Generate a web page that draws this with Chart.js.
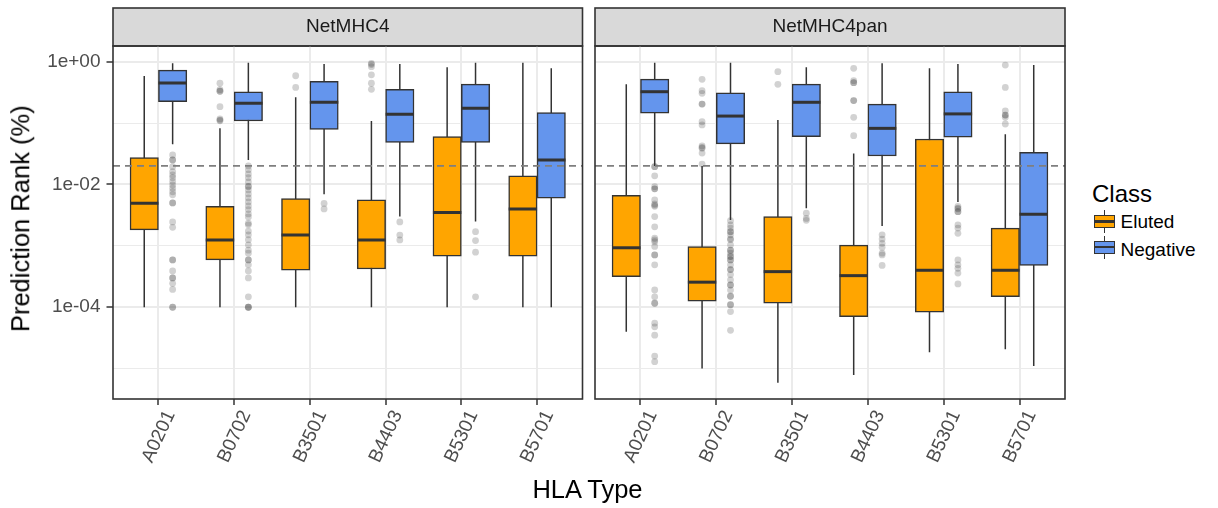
<!DOCTYPE html>
<html><head><meta charset="utf-8">
<script src="https://cdn.jsdelivr.net/npm/chart.js@4.4.1/dist/chart.umd.min.js"></script>
<style>
html,body{margin:0;padding:0;background:#fff;}
body{width:1218px;height:508px;position:relative;overflow:hidden;font-family:"Liberation Sans",Arial,sans-serif;}
canvas{position:absolute;top:0;}
#c1{left:0;} #c2{left:590px;}
.txt{position:absolute;line-height:1;white-space:nowrap;color:#000;}
.key{position:absolute;width:21px;height:23px;}
.key .wh{position:absolute;left:9.75px;top:0;width:1.5px;height:23px;background:#333;}
.key .bx{position:absolute;left:0;top:5px;width:21px;height:13px;box-sizing:border-box;border:1.5px solid #333;}
.key .md{position:absolute;left:0;top:10.25px;width:21px;height:2.5px;background:#333;}
</style></head><body>
<canvas id="c1" width="590" height="508"></canvas>
<canvas id="c2" width="480" height="508"></canvas>
<div class="txt" style="left:-129px;top:205.5px;width:300px;height:25.5px;font-size:25.5px;text-align:center;transform:rotate(-90deg);">Prediction Rank (%)</div>
<div class="txt" style="left:387.5px;top:476.5px;width:400px;font-size:25.5px;text-align:center;">HLA Type</div>
<div class="txt" style="left:1092px;top:181.5px;font-size:24px;">Class</div>
<div class="key" style="left:1094px;top:210px;"><div class="wh"></div><div class="bx" style="background:#FFA500"></div><div class="md"></div></div>
<div class="txt" style="left:1120.5px;top:212.4px;font-size:19px;">Eluted</div>
<div class="key" style="left:1094px;top:235.5px;"><div class="wh"></div><div class="bx" style="background:#6495ED"></div><div class="md"></div></div>
<div class="txt" style="left:1120.5px;top:239.6px;font-size:19px;">Negative</div>
<script>
// ---------- data ----------
const categories = ['A0201','B0702','B3501','B4403','B5301','B5701'];
const facetNames = ['NetMHC4','NetMHC4pan'];
const classNames = ['Eluted','Negative'];
const classColors = ['#FFA500','#6495ED'];
const yTickValues = [1e-4, 1e-2, 1];
const yTickLabels = ['1e-04','1e-02','1e+00'];
const yMinorValues = [1e-5, 1e-3, 1e-1];
const thresholdRank = 0.02;

// box stats per HLA type: [lower whisker, Q1, median, Q3, upper whisker]
const netMHC4Eluted = [
  [1e-4, 0.00182, 0.00494, 0.0273, 0.585],
  [1e-4, 0.00059, 0.00125, 0.0044, 0.082],
  [1e-4, 0.00040, 0.00150, 0.0059, 0.263],
  [1e-4, 0.00042, 0.00125, 0.0056, 0.108],
  [1e-4, 0.00068, 0.00350, 0.0600, 0.81],
  [1e-4, 0.00068, 0.00400, 0.0138, 0.96]
];
const netMHC4Negative = [
  [0.045, 0.223, 0.45, 0.73, 0.94],
  [0.025, 0.108, 0.21, 0.324, 0.96],
  [0.0069, 0.079, 0.218, 0.48, 0.92],
  [0.0030, 0.0486, 0.139, 0.355, 0.92],
  [0.0025, 0.0486, 0.174, 0.43, 0.96],
  [1e-4, 0.0060, 0.0251, 0.148, 0.78]
];
const netMHC4panEluted = [
  [3.97e-5, 0.000316, 0.00093, 0.00667, 0.43],
  [1.0e-5, 0.000126, 0.000256, 0.00097, 0.020],
  [5.9e-6, 0.000116, 0.00038, 0.0030, 0.112],
  [7.9e-6, 0.000070, 0.000327, 0.00103, 0.032],
  [1.85e-5, 0.000083, 0.00040, 0.055, 0.78],
  [2.07e-5, 0.000148, 0.00040, 0.00194, 0.066]
];
const netMHC4panNegative = [
  [0.020, 0.145, 0.324, 0.52, 0.96],
  [0.00264, 0.0457, 0.13, 0.31, 0.96],
  [0.0041, 0.060, 0.218, 0.43, 0.81],
  [0.0021, 0.0291, 0.082, 0.204, 0.94],
  [0.0052, 0.0588, 0.141, 0.324, 0.92],
  [1.1e-5, 0.00048, 0.00327, 0.0334, 0.88]
];

// outliers per HLA type
const netMHC4ElutedOutliers = [
  [],
  [0.445, 0.35, 0.33, 0.33, 0.185, 0.117, 0.112, 0.109],
  [0.59, 0.38],
  [0.94, 0.90, 0.83, 0.61, 0.445, 0.355],
  [],
  []
];
const netMHC4NegativeOutliers = [
  [0.0302, 0.0251, 0.0251, 0.0195, 0.0162, 0.0143, 0.0129, 0.0112, 0.0098, 0.0087, 0.0076, 0.0068, 0.0050, 0.0050, 0.00245, 0.0020, 0.00059, 0.00059, 0.00039, 0.00030, 0.00030, 0.000245, 0.000195, 0.0001, 0.0001],
  [0.0200, 0.0174, 0.0148, 0.0129, 0.0110, 0.0093, 0.0093, 0.00813, 0.0070, 0.00603, 0.00519, 0.00447, 0.00389, 0.00331, 0.00295, 0.00234, 0.0022, 0.00174, 0.00151, 0.00126, 0.00104, 0.00085, 0.00076, 0.00059, 0.00059, 0.00049, 0.00039, 0.00030, 0.000148, 0.0001, 0.0001, 0.0001],
  [0.0049, 0.0040],
  [0.00245, 0.0015, 0.00125],
  [0.0017, 0.00122, 0.00079, 0.000148],
  []
];
const netMHC4panElutedOutliers = [
  [],
  [0.516, 0.337, 0.305, 0.204, 0.204, 0.105, 0.0933, 0.0424, 0.040, 0.0389, 0.0324, 0.0215],
  [0.687, 0.428],
  [0.78, 0.49, 0.455, 0.455, 0.232, 0.232, 0.124, 0.0624],
  [],
  [0.88, 0.38, 0.158, 0.135, 0.135, 0.124, 0.0966]
];
const netMHC4panNegativeOutliers = [
  [0.0195, 0.0195, 0.0138, 0.0092, 0.0085, 0.0085, 0.0056, 0.0048, 0.0046, 0.0044, 0.0030, 0.00204, 0.00133, 0.00125, 0.00117, 0.00098, 0.00071, 0.00071, 0.00049, 0.000191, 0.000148, 0.000116, 0.000116, 5.5e-5, 4.8e-5, 3.5e-5, 1.6e-5, 1.3e-5],
  [0.00257, 0.00219, 0.00195, 0.0017, 0.0017, 0.00151, 0.0013, 0.00126, 0.00104, 0.00085, 0.00085, 0.00076, 0.00067, 0.00067, 0.00059, 0.00059, 0.00049, 0.00041, 0.00041, 0.00034, 0.00028, 0.00023, 0.00023, 0.00019, 0.000151, 0.000151, 0.00011, 0.00011, 8.5e-5, 4.2e-5],
  [0.0034, 0.0028, 0.0026],
  [0.00151, 0.00129, 0.0011, 0.00095, 0.00076, 0.00071, 0.00048],
  [0.0044, 0.0041, 0.0040, 0.0036, 0.0036, 0.00219, 0.00195, 0.0016, 0.00059, 0.00049, 0.00043, 0.00036, 0.00024],
  []
];

// ---------- layout / style ----------
const FONT = '"Liberation Sans", Arial, sans-serif';
const xMin = 0.4, xMax = 6.6;      // discrete axis expansion (0.6 each side)
const yMin = 3.2e-6, yMax = 1.8;   // log axis range
const dodge = 0.1875;
const stripTop = 8;
const isMajorY = v => yTickValues.some(t => Math.abs(Math.log10(t) - Math.log10(v)) < 1e-6);

const stripPlugin = {
  id: 'strip',
  beforeDraw(chart) {
    const {ctx, chartArea: a} = chart;
    ctx.save();
    ctx.fillStyle = '#d9d9d9';
    ctx.fillRect(a.left, stripTop, a.right - a.left, a.top - stripTop);
    ctx.strokeStyle = '#333333';
    ctx.lineWidth = 1.6;
    ctx.strokeRect(a.left, stripTop, a.right - a.left, a.top - stripTop);
    ctx.restore();
  }
};
const borderPlugin = {
  id: 'panelBorder',
  afterDatasetsDraw(chart) {
    const {ctx, chartArea: a} = chart;
    ctx.save();
    ctx.strokeStyle = '#333333';
    ctx.lineWidth = 1.6;
    ctx.strokeRect(a.left, a.top, a.right - a.left, a.bottom - a.top);
    ctx.restore();
  }
};

function makePanel(canvasId, title, eluted, negative, elutedOut, negativeOut, showY, padL, padR) {
  const groups = [
    {stats: eluted, out: elutedOut, color: classColors[0], off: -dodge, name: classNames[0]},
    {stats: negative, out: negativeOut, color: classColors[1], off: dodge, name: classNames[1]}
  ];
  const datasets = [];
  groups.forEach(g => {
    const wh = [];
    g.stats.forEach((s, i) => { const x = i + 1 + g.off; wh.push({x, y: s[0]}, {x, y: s[4]}, {x, y: null}); });
    datasets.push({type: 'line', label: g.name + ' whiskers', data: wh, borderColor: '#333333', borderWidth: 1.5,
      pointRadius: 0, spanGaps: false, fill: false, order: 5});
  });
  groups.forEach(g => {
    datasets.push({type: 'bar', label: g.name, data: g.stats.map((s, i) => ({x: i + 1 + g.off, y: [s[1], s[3]]})),
      backgroundColor: g.color, borderColor: '#333333', borderWidth: 1.5, borderSkipped: false,
      grouped: false, categoryPercentage: 1, barPercentage: 1, order: 4});
  });
  groups.forEach(g => {
    datasets.push({type: 'scatter', label: g.name + ' median', data: g.stats.map((s, i) => ({x: i + 1 + g.off, y: s[2]})),
      pointStyle: 'line', pointRadius: 14.2, pointBorderWidth: 3, pointBorderColor: '#333333',
      borderColor: '#333333', order: 3});
  });
  groups.forEach(g => {
    datasets.push({type: 'scatter', label: g.name + ' outliers',
      data: g.out.flatMap((arr, i) => arr.map(v => ({x: i + 1 + g.off, y: v}))),
      pointRadius: 3.4, pointBackgroundColor: 'rgba(51,51,51,0.22)', pointBorderWidth: 0, order: 2});
  });
  datasets.push({type: 'line', label: 'threshold', data: [{x: xMin, y: thresholdRank}, {x: xMax, y: thresholdRank}],
    borderColor: '#7f7f7f', borderWidth: 1.8, borderDash: [7, 5], pointRadius: 0, fill: false, order: 1});

  return new Chart(document.getElementById(canvasId), {
    type: 'bar',
    data: {datasets},
    plugins: [stripPlugin, borderPlugin],
    options: {
      responsive: false, animation: false, events: [],
      layout: {autoPadding: false, padding: {left: padL, right: padR, top: 0, bottom: 0}},
      plugins: {
        legend: {display: false}, tooltip: {enabled: false},
        title: {display: true, text: title, position: 'top', fullSize: false, color: '#1a1a1a',
          font: {family: FONT, size: 19, weight: 'normal', lineHeight: 1.2}, padding: {top: 15.6, bottom: 7.6}}
      },
      scales: {
        x: {
          type: 'linear', min: xMin, max: xMax, offset: false,
          afterBuildTicks: s => { s.ticks = categories.map((c, i) => ({value: i + 1})); },
          ticks: {autoSkip: false, minRotation: 65, maxRotation: 65, padding: 2, labelOffset: 12,
            color: '#4d4d4d', font: {family: FONT, size: 19},
            callback: v => categories[Math.round(v) - 1] ?? ''},
          grid: {offset: false, color: '#ebebeb', lineWidth: 2, drawTicks: true, tickLength: 6, tickWidth: 1.5, tickColor: '#333333'},
          border: {display: false},
          afterFit: s => { s.height = 109; s.paddingLeft = 0; s.paddingRight = 0; }
        },
        y: {
          type: 'logarithmic', min: yMin, max: yMax,
          afterBuildTicks: s => { s.ticks = [...yMinorValues, ...yTickValues].sort((a, b) => a - b).map(v => ({value: v})); },
          ticks: {display: showY, autoSkip: false, padding: 6, color: '#4d4d4d', font: {family: FONT, size: 19},
            callback: v => { const k = yTickValues.findIndex(t => Math.abs(Math.log10(t) - Math.log10(v)) < 1e-6); return k >= 0 ? yTickLabels[k] : ''; }},
          grid: {color: '#ebebeb', lineWidth: c => isMajorY(c.tick.value) ? 2 : 1, drawTicks: showY, tickLength: 6.5, tickWidth: 1.5,
            tickColor: c => isMajorY(c.tick.value) ? '#333333' : 'rgba(0,0,0,0)'},
          border: {display: false},
          afterFit: s => { s.width = showY ? 113 : 0; s.paddingTop = 0; s.paddingBottom = 0; }
        }
      }
    }
  });
}

makePanel('c1', facetNames[0], netMHC4Eluted, netMHC4Negative, netMHC4ElutedOutliers, netMHC4NegativeOutliers, true, 0, 7.5);
makePanel('c2', facetNames[1], netMHC4panEluted, netMHC4panNegative, netMHC4panElutedOutliers, netMHC4panNegativeOutliers, false, 5, 5);
</script>
</body></html>
